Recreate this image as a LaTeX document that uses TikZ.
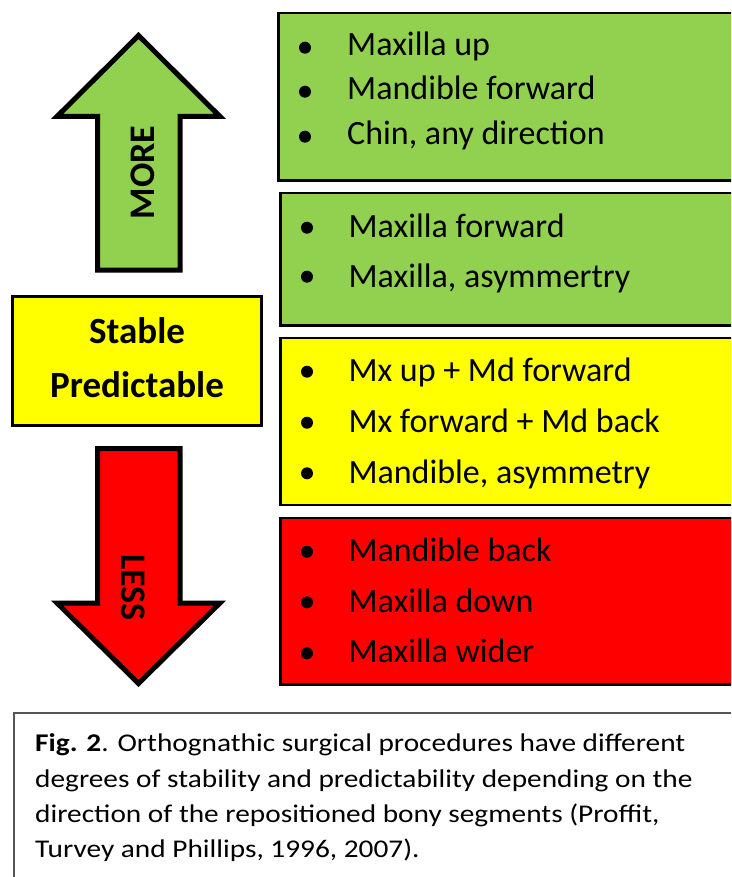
\documentclass[tikz,border=0pt]{standalone}
\usepackage{fontspec}
\setmainfont{Carlito}
\definecolor{grn}{HTML}{92D050}
\definecolor{ylw}{HTML}{FFFF00}
\definecolor{rd}{HTML}{FF0000}
\definecolor{capframe}{HTML}{555555}
\begin{document}
\begin{tikzpicture}[x=1pt,y=-1pt,
  bigarrow/.style={draw=black,line width=5pt,line join=miter},
  arrowlabel/.style={inner sep=0pt,font=\fontsize{36}{40}\selectfont\bfseries},
  stablebox/.style={draw=black,line width=3.5pt},
  stabletext/.style={inner sep=0pt,anchor=base,font=\fontsize{37}{40}\selectfont\bfseries},
  listbox/.style={draw=black,line width=2.5pt},
  itemtext/.style={inner sep=0pt,anchor=base west,font=\fontsize{34}{40}\selectfont},
  captext/.style={inner sep=0pt,anchor=base west,xscale=1.15,font=\fontsize{25.5}{30}\selectfont},
  bul/.style={fill=black}
]
\useasboundingbox (0,0) rectangle (731,877);
\fill[white] (0,0) rectangle (731,877);
\begin{scope}
\clip (0,0) rectangle (731,877);

% up arrow
\draw[bigarrow,fill=grn] (138.5,35.5) -- (220,116.5) -- (180,116.5) -- (180,270)
  -- (97.5,270) -- (97.5,116.5) -- (57,116.5) -- cycle;
\node[arrowlabel,rotate=90] (more) at (143,172.5) {MORE};

% stable box
\draw[stablebox,fill=ylw] (12.5,296.5) rectangle (261.5,425.5);
\node[stabletext] (stable) at (137,343) {Stable};
\node[stabletext] (pred) at (137,397) {Predictable};

% down arrow
\draw[bigarrow,fill=rd] (97.5,448.5) -- (180,448.5) -- (180,603) -- (220,603)
  -- (138.5,683.5) -- (57,603) -- (97.5,603) -- cycle;
\node[arrowlabel,rotate=-90] (less) at (133.3,587.5) {LESS};

% list boxes
\draw[listbox,fill=grn] (278.3,12.8) rectangle (745,180.5);
\draw[listbox,fill=grn] (280.5,193) rectangle (745,325.5);
\draw[listbox,fill=ylw] (280.5,338) rectangle (745,505);
\draw[listbox,fill=rd] (280.5,518) rectangle (745,684.5);

% box 1
\fill[bul] (305,47.7) circle (6);
\node[itemtext] (t1a) at (347,56) {Maxilla up};
\fill[bul] (305,91.7) circle (6);
\node[itemtext] (t1b) at (347,100) {Mandible forward};
\fill[bul] (305,136.7) circle (6);
\node[itemtext] (t1c) at (347,145) {Chin, any direction};

% box 2
\fill[bul] (307,227.7) circle (6);
\node[itemtext] (t2a) at (348.3,237) {Maxilla forward};
\fill[bul] (307,276.7) circle (6);
\node[itemtext] (t2b) at (348.3,287) {Maxilla, asymmertry};

% box 3
\fill[bul] (307,371.7) circle (6);
\node[itemtext] (t3a) at (348.3,381.5) {Mx up + Md forward};
\fill[bul] (307,422.7) circle (6);
\node[itemtext] (t3b) at (348.3,432.5) {Mx forward + Md back};
\fill[bul] (307,473.3) circle (6);
\node[itemtext] (t3c) at (348.3,483) {Mandible, asymmetry};

% box 4
\fill[bul] (307,551.7) circle (6);
\node[itemtext] (t4a) at (348.3,561.5) {Mandible back};
\fill[bul] (307,602.3) circle (6);
\node[itemtext] (t4b) at (348.3,612) {Maxilla down};
\fill[bul] (307,653.3) circle (6);
\node[itemtext] (t4c) at (348.3,662.5) {Maxilla wider};

% caption
\draw[draw=capframe,line width=2pt,fill=white] (14.3,713) rectangle (745,890);
\node[captext] (c1) at (35,751) {\textbf{Fig. 2}. Orthognathic surgical procedures have different};
\node[captext] (c2) at (35,787) {degrees of stability and predictability depending on the};
\node[captext] (c3) at (35,822) {direction of the repositioned bony segments (Proffit,};
\node[captext] (c4) at (35,857) {Turvey and Phillips, 1996, 2007).};
\end{scope}
\end{tikzpicture}
\end{document}
